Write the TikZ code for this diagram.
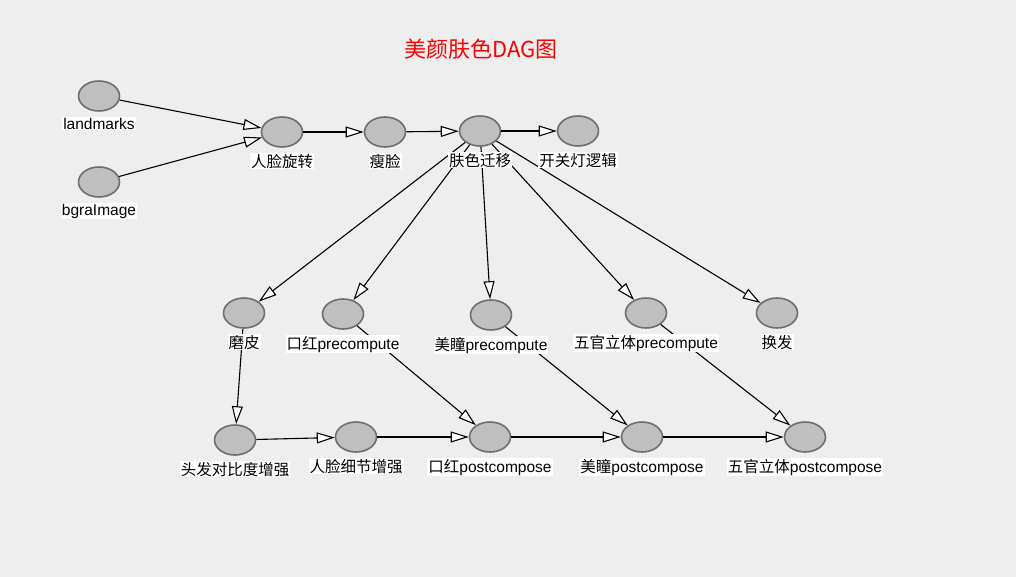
\documentclass[tikz,border=0pt]{standalone}
\usepackage{fontspec}
\setmainfont{Liberation Sans}
\newfontfamily\cjk{Noto Sans CJK SC}
\usetikzlibrary{positioning,arrows.meta,shapes.geometric}
\definecolor{bgcol}{HTML}{EEEEEE}
\definecolor{nodefill}{HTML}{BFBFBF}
\definecolor{nodeline}{HTML}{6E6E6E}
\newcommand\zh[1]{{\cjk #1}}
\begin{document}
\begin{tikzpicture}[x=1pt,y=-1pt,
	vtx/.style={ellipse,draw=nodeline,fill=nodefill,line width=1.6pt,
		minimum width=41pt,minimum height=30pt,inner sep=0pt},
	tag/.style={fill=white,inner sep=1pt,font=\fontsize{15.5}{18}\selectfont,below=5pt of #1},
	edge/.style={-{Triangle[fill=white,length=18pt,width=11pt]},line width=1.1pt}]
	\fill[bgcol] (0,0) rectangle (1016,577);
	\node[text=red,font=\cjk\fontsize{22}{26}\selectfont] (title) at (481,49) {美颜肤色DAG图};
	% vertices
	\node[vtx] (landmarks) at (99,96) {};
	\node[vtx] (bgra) at (99,182) {};
	\node[vtx] (rot) at (282,132) {};
	\node[vtx] (thin) at (385,132) {};
	\node[vtx] (skin) at (480,131) {};
	\node[vtx] (light) at (578,131) {};
	\node[vtx] (smooth) at (244,313) {};
	\node[vtx] (lippre) at (343,314) {};
	\node[vtx] (eyepre) at (491,315) {};
	\node[vtx] (facepre) at (646,313) {};
	\node[vtx] (hair) at (777,313) {};
	\node[vtx] (contrast) at (235,440) {};
	\node[vtx] (detail) at (356,437) {};
	\node[vtx] (lippost) at (490,437) {};
	\node[vtx] (eyepost) at (642,437) {};
	\node[vtx] (facepost) at (805,437) {};
	% edges
	\draw[edge] (landmarks) -- (rot);
	\draw[edge] (bgra) -- (rot);
	\draw[edge] (rot) -- (thin);
	\draw[edge] (thin) -- (skin);
	\draw[edge] (skin) -- (light);
	\foreach \t in {smooth,lippre,eyepre,facepre,hair}
		\draw[edge] (skin) -- (\t);
	\draw[edge] (smooth) -- (contrast);
	\draw[edge] (contrast) -- (detail);
	\draw[edge] (detail) -- (lippost);
	\draw[edge] (lippre) -- (lippost);
	\draw[edge] (lippost) -- (eyepost);
	\draw[edge] (eyepre) -- (eyepost);
	\draw[edge] (eyepost) -- (facepost);
	\draw[edge] (facepre) -- (facepost);
	% labels
	\node[tag=landmarks] (l-landmarks) {landmarks};
	\node[tag=bgra] (l-bgra) {bgraImage};
	\node[tag=rot] (l-rot) {\zh{人脸旋转}};
	\node[tag=thin] (l-thin) {\zh{瘦脸}};
	\node[tag=skin] (l-skin) {\zh{肤色迁移}};
	\node[tag=light] (l-light) {\zh{开关灯逻辑}};
	\node[tag=smooth] (l-smooth) {\zh{磨皮}};
	\node[tag=lippre] (l-lippre) {\zh{口红}precompute};
	\node[tag=eyepre] (l-eyepre) {\zh{美瞳}precompute};
	\node[tag=facepre] (l-facepre) {\zh{五官立体}precompute};
	\node[tag=hair] (l-hair) {\zh{换发}};
	\node[tag=contrast] (l-contrast) {\zh{头发对比度增强}};
	\node[tag=detail] (l-detail) {\zh{人脸细节增强}};
	\node[tag=lippost] (l-lippost) {\zh{口红}postcompose};
	\node[tag=eyepost] (l-eyepost) {\zh{美瞳}postcompose};
	\node[tag=facepost] (l-facepost) {\zh{五官立体}postcompose};
\end{tikzpicture}
\end{document}
